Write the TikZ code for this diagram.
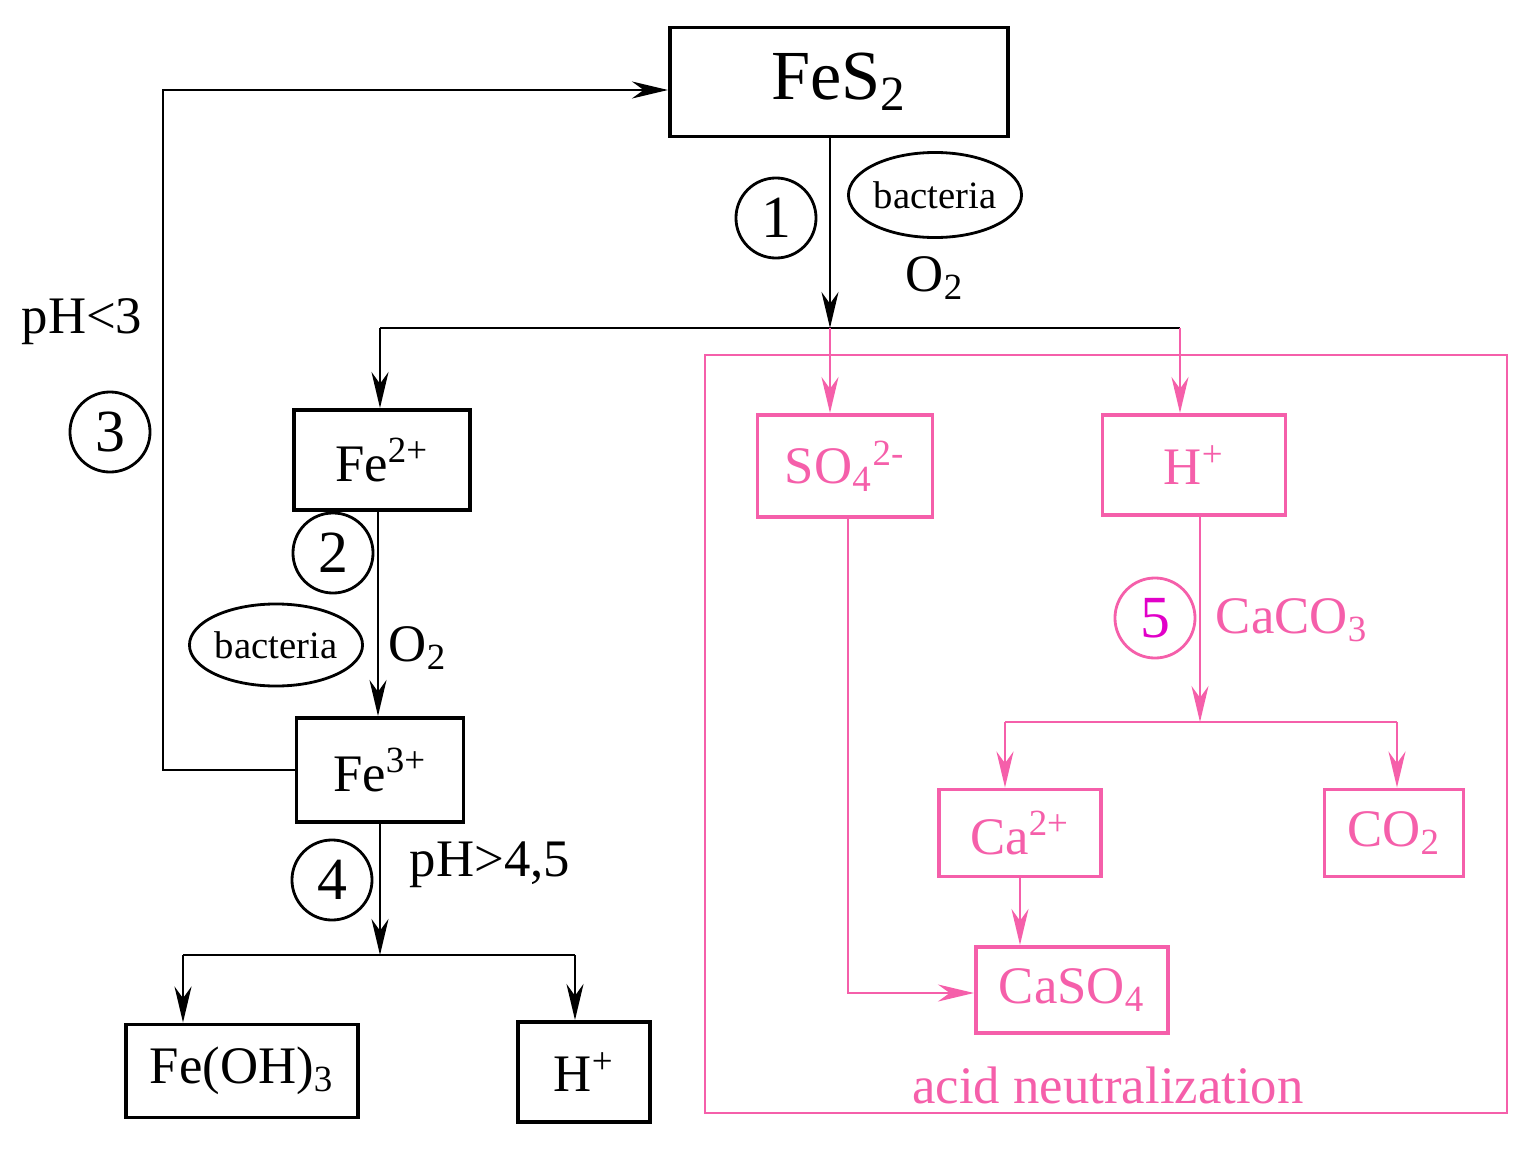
\documentclass[tikz,border=0pt]{standalone}
\usepackage{fontspec}
\setmainfont{Liberation Serif}
\usetikzlibrary{shapes.geometric,arrows.meta}
\definecolor{acidpink}{RGB}{245,95,170}
\definecolor{acidmag}{RGB}{225,0,200}
\tikzset{
  box/.style={draw, line width=1.1pt, rectangle, inner sep=0pt, font=\fontsize{15}{15}\selectfont},
  pinkbox/.style={box, draw=acidpink, text=acidpink},
  num/.style={draw, thick, circle, minimum size=0.8cm, inner sep=0pt, font=\fontsize{17}{17}\selectfont},
  bact/.style={draw, thick, ellipse, inner sep=0pt, font=\fontsize{11}{11}\selectfont},
  lbl/.style={font=\fontsize{15}{15}\selectfont},
  arr/.style={thick, -{Stealth[length=0.36cm, width=0.17cm]}},
  pinkarr/.style={arr, draw=acidpink}
}
\begin{document}
\begin{tikzpicture}[x=0.01cm, y=-0.01cm]
\useasboundingbox (0,0) rectangle (1535,1151);
% frame
\draw[thick, acidpink] (705,355) rectangle (1507,1113);
\node[lbl, text=acidpink] (acid) at (1108,1085) {acid neutralization};
% boxes
\node[box, minimum width=3.38cm, minimum height=1.09cm, font=\fontsize{20}{20}\selectfont] (fes) at (839,82) {FeS\textsubscript{2}};
\node[box, minimum width=1.76cm, minimum height=1cm] (fe2) at (382,460) {Fe\textsuperscript{2+}};
\node[box, minimum width=1.67cm, minimum height=1.04cm] (fe3) at (380,770) {Fe\textsuperscript{3+}};
\node[box, minimum width=2.31cm, minimum height=0.93cm] (feoh) at (242,1071) {Fe(OH)\textsubscript{3}};
\node[box, minimum width=1.32cm, minimum height=1cm] (hl) at (584,1072) {H\textsuperscript{+}};
\node[pinkbox, minimum width=1.75cm, minimum height=1.02cm] (so4) at (845,466) {SO\textsubscript{4}\textsuperscript{2-}};
\node[pinkbox, minimum width=1.83cm, minimum height=1cm] (hr) at (1194,465) {H\textsuperscript{+}};
\node[pinkbox, minimum width=1.62cm, minimum height=0.87cm] (ca) at (1020,833) {Ca\textsuperscript{2+}};
\node[pinkbox, minimum width=1.39cm, minimum height=0.87cm] (co2) at (1394,833) {CO\textsubscript{2}};
\node[pinkbox, minimum width=1.92cm, minimum height=0.86cm] (caso) at (1072,990) {CaSO\textsubscript{4}};
% labels
\node[num] (n1) at (776,218) {1};
\node[bact, minimum width=1.65cm, minimum height=0.85cm] (b1) at (935,195) {bacteria};
\node[lbl] (o1) at (935,278) {O\textsubscript{2}};
\node[num] (n2) at (333,553) {2};
\node[bact, minimum width=1.65cm, minimum height=0.82cm] (b2) at (276,645) {bacteria};
\node[lbl] (o2) at (418,648) {O\textsubscript{2}};
\node[lbl] (ph3) at (82,322) {pH<3};
\node[num] (n3) at (110,432) {3};
\node[num] (n4) at (332,880) {4};
\node[lbl] (ph45) at (490,865) {pH>4,5};
\node[num, draw=acidpink, text=acidmag] (n5) at (1155,618) {5};
\node[lbl, text=acidpink] (caco) at (1292,620) {CaCO\textsubscript{3}};
% junctions
\coordinate (j1) at (830,328);
\coordinate (j2) at (380,955);
\coordinate (j3) at (1200,722);
% connectors
\draw[arr] (fes.south -| j1) -- (j1);
\draw[thick] (380,328) coordinate (j1l) -- (1180,328) coordinate (j1r);
\draw[arr] (j1l) -- (j1l |- fe2.north);
\draw[pinkarr] (j1) -- (j1 |- so4.north);
\draw[pinkarr] (j1r) -- (j1r |- hr.north);
\draw[arr] (fe2.south -| 378,0) -- (fe3.north -| 378,0);
\draw[arr] (fe3.west) -- (163,770) -- (163,90) -- (fes.west |- 0,90);
\draw[arr] (fe3.south) -- (j2);
\draw[thick] (183,955) coordinate (j2l) -- (575,955) coordinate (j2r);
\draw[arr] (j2l) -- (j2l |- feoh.north);
\draw[arr] (j2r) -- (j2r |- hl.north);
\draw[pinkarr] (hr.south -| j3) -- (j3);
\draw[thick, acidpink] (1005,722) coordinate (j3l) -- (1397,722) coordinate (j3r);
\draw[pinkarr] (j3l) -- (j3l |- ca.north);
\draw[pinkarr] (j3r) -- (j3r |- co2.north);
\draw[pinkarr] (ca.south) -- (ca.south |- caso.north);
\draw[pinkarr] (so4.south -| 848,0) -- (848,993) -- (caso.west |- 0,993);
\end{tikzpicture}
\end{document}
